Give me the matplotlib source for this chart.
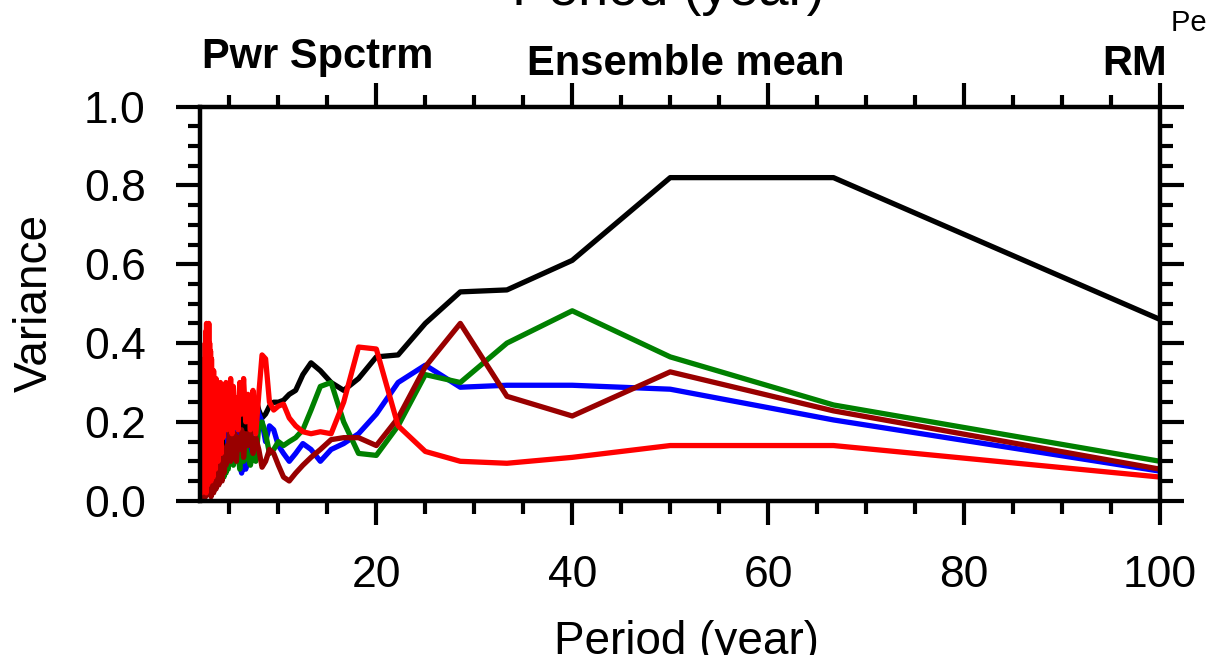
import numpy as np
import matplotlib
matplotlib.use("Agg")
import matplotlib.pyplot as plt
from matplotlib.ticker import MultipleLocator

plt.rcParams['font.family'] = ['Liberation Sans', 'DejaVu Sans']

# spectral grid: harmonic index k -> period 200/k years
harmonic = np.arange(2, 101)
period = 200.0 / harmonic

black_var = [0.46, 0.82, 0.82, 0.61, 0.535, 0.53, 0.45, 0.37, 0.365, 0.31,
             0.28, 0.30, 0.33, 0.35, 0.32, 0.28, 0.27, 0.255, 0.25, 0.25,
             0.24, 0.22, 0.21, 0.23, 0.26, 0.25, 0.20, 0.18, 0.21, 0.17,
             0.22, 0.15, 0.19, 0.24, 0.16, 0.20, 0.13, 0.18, 0.22, 0.14,
             0.19, 0.12, 0.17, 0.21, 0.15, 0.18, 0.11, 0.16, 0.20, 0.13,
             0.17, 0.10, 0.15, 0.19, 0.12, 0.16, 0.09, 0.14, 0.18, 0.11,
             0.15, 0.08, 0.13, 0.17, 0.10, 0.14, 0.07, 0.12, 0.16, 0.09,
             0.13, 0.06, 0.11, 0.15, 0.08, 0.12, 0.05, 0.10, 0.14, 0.07,
             0.11, 0.04, 0.09, 0.13, 0.06, 0.10, 0.03, 0.08, 0.12, 0.05,
             0.09, 0.02, 0.07, 0.11, 0.04, 0.08, 0.03, 0.06, 0.05]

blue_var = [0.075, 0.205, 0.283, 0.293, 0.293, 0.288, 0.344, 0.30, 0.22, 0.17,
            0.145, 0.13, 0.10, 0.13, 0.145, 0.12, 0.10, 0.12, 0.14, 0.18,
            0.19, 0.15, 0.20, 0.22, 0.25, 0.20, 0.15, 0.10, 0.08, 0.10,
            0.07, 0.09, 0.12, 0.17, 0.22, 0.19, 0.14, 0.16, 0.11, 0.13,
            0.18, 0.22, 0.25, 0.26, 0.23, 0.20, 0.16, 0.12, 0.15, 0.19,
            0.10, 0.14, 0.08, 0.12, 0.17, 0.09, 0.13, 0.06, 0.11, 0.15,
            0.08, 0.12, 0.05, 0.10, 0.14, 0.07, 0.11, 0.16, 0.09, 0.13,
            0.06, 0.10, 0.15, 0.08, 0.12, 0.05, 0.09, 0.14, 0.07, 0.11,
            0.16, 0.08, 0.12, 0.06, 0.10, 0.13, 0.07, 0.11, 0.05, 0.09,
            0.14, 0.08, 0.12, 0.06, 0.10, 0.15, 0.09, 0.12, 0.07]

green_var = [0.10, 0.243, 0.365, 0.482, 0.40, 0.30, 0.32, 0.19, 0.115, 0.12,
             0.20, 0.30, 0.29, 0.23, 0.18, 0.16, 0.15, 0.14, 0.15, 0.13,
             0.12, 0.17, 0.20, 0.19, 0.10, 0.12, 0.09, 0.11, 0.14, 0.10,
             0.13, 0.08, 0.12, 0.15, 0.11, 0.09, 0.13, 0.10, 0.14, 0.08,
             0.12, 0.07, 0.10, 0.06, 0.09, 0.12, 0.07, 0.10, 0.05, 0.09,
             0.12, 0.06, 0.10, 0.04, 0.08, 0.11, 0.05, 0.09, 0.13, 0.06,
             0.10, 0.04, 0.08, 0.12, 0.05, 0.09, 0.03, 0.07, 0.11, 0.05,
             0.09, 0.06, 0.10, 0.04, 0.08, 0.12, 0.05, 0.09, 0.03, 0.07,
             0.11, 0.05, 0.08, 0.13, 0.06, 0.09, 0.04, 0.08, 0.11, 0.05,
             0.09, 0.03, 0.07, 0.10, 0.05, 0.08, 0.12, 0.06, 0.09]

darkred_var = [0.08, 0.228, 0.327, 0.215, 0.265, 0.45, 0.34, 0.21, 0.14, 0.16,
               0.16, 0.155, 0.13, 0.11, 0.09, 0.07, 0.05, 0.06, 0.09, 0.12,
               0.13, 0.10, 0.085, 0.13, 0.16, 0.12, 0.18, 0.14, 0.17, 0.11,
               0.18, 0.13, 0.16, 0.10, 0.17, 0.12, 0.15, 0.10, 0.18, 0.11,
               0.14, 0.09, 0.13, 0.07, 0.12, 0.05, 0.11, 0.08, 0.12, 0.04,
               0.10, 0.06, 0.12, 0.03, 0.09, 0.05, 0.11, 0.02, 0.08, 0.13,
               0.04, 0.10, 0.01, 0.07, 0.12, 0.03, 0.09, 0.05, 0.11, 0.02,
               0.08, 0.12, 0.04, 0.10, 0.06, 0.13, 0.01, 0.09, 0.05, 0.11,
               0.03, 0.08, 0.12, 0.02, 0.07, 0.10, 0.04, 0.09, 0.01, 0.06,
               0.11, 0.03, 0.08, 0.05, 0.10, 0.02, 0.07, 0.09, 0.04]

red_var = [0.06, 0.14, 0.14, 0.11, 0.095, 0.10, 0.125, 0.19, 0.385, 0.39,
           0.25, 0.17, 0.175, 0.17, 0.175, 0.19, 0.21, 0.245, 0.24, 0.23,
           0.25, 0.36, 0.37, 0.27, 0.17, 0.28, 0.18, 0.27, 0.20, 0.31,
           0.22, 0.30, 0.18, 0.26, 0.19, 0.29, 0.17, 0.31, 0.20, 0.28,
           0.18, 0.30, 0.21, 0.27, 0.16, 0.29, 0.12, 0.30, 0.15, 0.26,
           0.10, 0.29, 0.14, 0.31, 0.08, 0.27, 0.12, 0.33, 0.06, 0.30,
           0.15, 0.36, 0.05, 0.38, 0.11, 0.40, 0.08, 0.45, 0.12, 0.44,
           0.04, 0.42, 0.14, 0.45, 0.02, 0.43, 0.10, 0.40, 0.06, 0.36,
           0.12, 0.30, 0.03, 0.29, 0.11, 0.27, 0.05, 0.28, 0.13, 0.25,
           0.02, 0.27, 0.09, 0.24, 0.04, 0.28, 0.10, 0.22, 0.06]

series = [
    (black_var, "black"),
    (blue_var, "#0000ff"),
    (green_var, "#008000"),
    (darkred_var, "#990000"),
    (red_var, "#ff0000"),
]

W, H = 1206, 655
fig = plt.figure(figsize=(W / 100, H / 100), dpi=100)
ax = fig.add_axes([200 / W, 1 - 500.7 / H, 960 / W, 394 / H])

for vals, col in series:
    ax.plot(period, vals, color=col, lw=3.8, solid_joinstyle='round')

ax.set_xlim(2, 100)
ax.set_ylim(0, 1.0)
ax.xaxis.set_major_locator(MultipleLocator(20))
ax.xaxis.set_minor_locator(MultipleLocator(5))
ax.yaxis.set_major_locator(MultipleLocator(0.2))
ax.yaxis.set_minor_locator(MultipleLocator(0.05))
ax.yaxis.set_major_formatter(matplotlib.ticker.FormatStrFormatter('%.1f'))

for sp in ax.spines.values():
    sp.set_linewidth(3.2)

ax.tick_params(which='major', direction='out', length=17, width=3,
               top=True, right=True, labelsize=32)
ax.tick_params(which='minor', direction='out', length=9, width=3,
               top=True, right=True)
ax.tick_params(axis='x', which='major', pad=22)
ax.tick_params(axis='y', which='major', pad=22)

fig.text(686 / W, 1 - 654 / H, "Period (year)", ha='center', va='baseline', fontsize=33)
fig.text(35 / W, 1 - 303 / H, "Variance", ha='center', va='center', rotation=90, fontsize=33)
fig.text(668 / W, 1 - 5 / H, "Period (year)", ha='center', va='baseline', fontsize=39)
fig.text(1171 / W, 1 - 31 / H, "Period (year)", ha='left', va='baseline', fontsize=21)

fig.text(202 / W, 1 - 68 / H, "Pwr Spctrm", ha='left', va='baseline', fontsize=30, fontweight='bold')
fig.text(686 / W, 1 - 75 / H, "Ensemble mean", ha='center', va='baseline', fontsize=30, fontweight='bold')
fig.text(1167 / W, 1 - 75 / H, "RM", ha='right', va='baseline', fontsize=30, fontweight='bold')

fig.savefig("out.png", dpi=100)
